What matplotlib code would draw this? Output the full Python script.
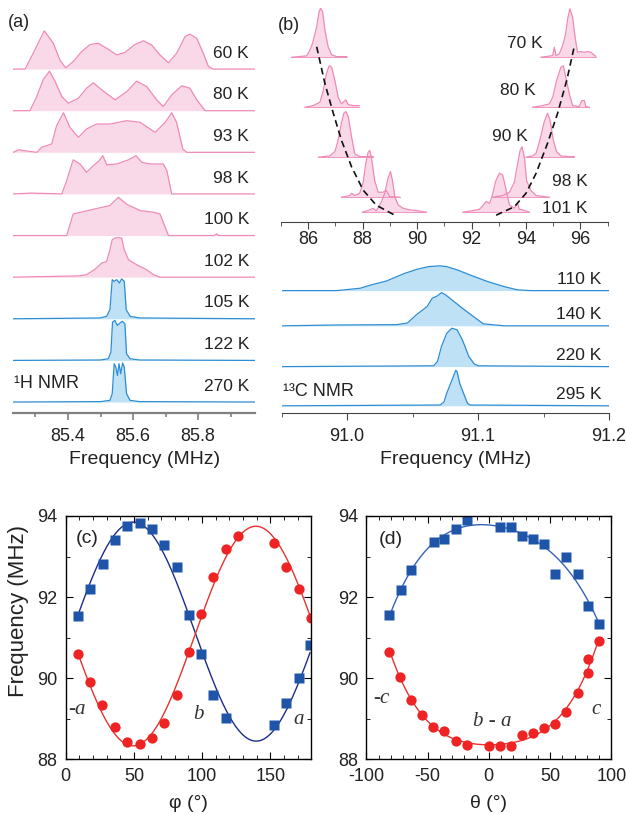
import numpy as np
import matplotlib
matplotlib.use("Agg")
import matplotlib.pyplot as plt
from matplotlib.ticker import MultipleLocator, FormatStrFormatter

plt.rcParams['font.family'] = ['Liberation Sans', 'DejaVu Sans']
plt.rcParams['axes.unicode_minus'] = False

pink_line = '#ef8ab7'
pink_fill = '#f9d3e4'
blue_line = '#2c8dd4'
blue_fill = '#b3dcf5'
sq_col = '#1f55a8'
dot_col = '#ee2424'

# ---------------- (a) 1H NMR spectra (top to bottom) ----------------
a_labels = ['60 K', '80 K', '93 K', '98 K', '100 K', '102 K', '105 K', '122 K', '270 K']
a_freq = [
    [85.232, 85.268, 85.293, 85.327, 85.355, 85.375, 85.393, 85.416, 85.442, 85.468, 85.493, 85.519, 85.550,
     85.575, 85.606, 85.632, 85.657, 85.683, 85.709, 85.734, 85.760, 85.775, 85.796, 85.816, 85.832, 85.847, 85.975],
    [85.232, 85.283, 85.304, 85.324, 85.343, 85.360, 85.381, 85.401, 85.432, 85.457, 85.478, 85.504, 85.545,
     85.581, 85.611, 85.642, 85.673, 85.693, 85.719, 85.750, 85.775, 85.796, 85.822, 85.975],
    [85.232, 85.247, 85.304, 85.319, 85.334, 85.350, 85.365, 85.386, 85.406, 85.432, 85.457, 85.488, 85.529,
     85.581, 85.622, 85.668, 85.699, 85.719, 85.734, 85.753, 85.765, 85.975],
    [85.232, 85.288, 85.381, 85.396, 85.416, 85.437, 85.457, 85.478, 85.496, 85.507, 85.519, 85.550, 85.586,
     85.609, 85.627, 85.652, 85.693, 85.704, 85.719, 85.975],
    [85.232, 85.396, 85.416, 85.450, 85.488, 85.529, 85.555, 85.581, 85.622, 85.663, 85.683, 85.709, 85.850,
     85.857, 85.864, 85.975],
    [85.232, 85.432, 85.457, 85.483, 85.504, 85.519, 85.529, 85.536, 85.544, 85.555, 85.565, 85.573, 85.586,
     85.611, 85.642, 85.663, 85.683, 85.975],
    [85.232, 85.498, 85.519, 85.529, 85.536, 85.542, 85.550, 85.558, 85.565, 85.573, 85.579, 85.591, 85.620, 85.975],
    [85.232, 85.500, 85.524, 85.532, 85.537, 85.544, 85.552, 85.560, 85.567, 85.575, 85.580, 85.591, 85.620, 85.975],
    [85.232, 85.500, 85.529, 85.536, 85.542, 85.547, 85.552, 85.557, 85.562, 85.568, 85.573, 85.580, 85.591,
     85.620, 85.975],
]
a_int = [
    [0, 0, 0.38, 0.92, 0.62, 0.22, 0.03, 0.18, 0.42, 0.59, 0.62, 0.50, 0.34, 0.40, 0.59, 0.68, 0.58, 0.34, 0.15,
     0.38, 0.78, 0.84, 0.74, 0.38, 0.06, 0, 0],
    [0, 0, 0.34, 0.75, 0.95, 0.71, 0.34, 0.18, 0.30, 0.54, 0.67, 0.50, 0.26, 0.46, 0.71, 0.58, 0.26, 0.10, 0.38,
     0.60, 0.54, 0.26, 0, 0],
    [0, 0.06, 0, 0.12, 0.16, 0.20, 0.64, 0.95, 0.60, 0.36, 0.56, 0.68, 0.68, 0.76, 0.72, 0.48, 0.72, 0.95, 0.72,
     0.08, 0, 0],
    [0, 0.02, 0, 0.32, 0.82, 0.72, 0.52, 0.68, 0.80, 0.92, 0.70, 0.72, 0.82, 0.92, 0.76, 0.72, 0.72, 0.56, 0, 0],
    [0, 0, 0.52, 0.58, 0.65, 0.72, 0.92, 0.75, 0.60, 0.56, 0.52, 0, 0, 0.04, 0, 0],
    [0, 0.03, 0.06, 0.19, 0.34, 0.38, 0.66, 0.90, 0.94, 0.95, 0.94, 0.66, 0.42, 0.30, 0.18, 0.06, 0, 0],
    [0, 0.02, 0.06, 0.22, 0.94, 0.90, 0.94, 0.86, 0.96, 0.90, 0.22, 0.06, 0.02, 0],
    [0, 0.01, 0.04, 0.20, 0.92, 0.96, 0.84, 0.90, 0.94, 0.88, 0.16, 0.04, 0.01, 0],
    [0, 0.01, 0.04, 0.20, 0.92, 0.84, 0.64, 0.92, 0.68, 0.94, 0.84, 0.20, 0.04, 0.01, 0],
]
a_pink = 6  # first six are the ordered (pink) phase

# ---------------- (b) top: 13C split lines below Tc ----------------
b_temps = [70, 80, 90, 98, 101]
b_left_f = [
    [85.39, 85.94, 86.06, 86.16, 86.31, 86.40, 86.45, 86.53, 86.61, 86.73, 86.86, 87.04, 87.41],
    [85.88, 86.18, 86.43, 86.55, 86.67, 86.77, 86.86, 86.98, 87.10, 87.22, 87.38, 87.47, 87.65, 87.87],
    [86.37, 86.79, 86.98, 87.10, 87.22, 87.31, 87.38, 87.47, 87.59, 87.71, 87.89, 88.38],
    [87.22, 87.53, 87.59, 87.71, 87.89, 88.02, 88.11, 88.20, 88.26, 88.32, 88.44, 88.57, 88.75, 88.87, 88.99, 89.36],
    [87.99, 88.26, 88.38, 88.50, 88.69, 88.81, 88.93, 89.02, 89.09, 89.18, 89.30, 89.48, 89.73, 89.97, 90.34],
]
b_left_h = [
    [0, 0.27, 1.4, 2.8, 6.1, 9.1, 9.8, 9.1, 5.5, 2.1, 0.5, 0.13, 0.13],
    [0, 0.33, 1.0, 3.3, 6.7, 8.3, 8.0, 5.3, 2.0, 0.67, 1.47, 0.53, 0.33, 0.33],
    [0, 0.27, 1.13, 3.47, 6.8, 8.8, 9.13, 8.13, 4.13, 0.67, 0.13, 0.13],
    [0, 0.33, 0.8, 0.33, 0.8, 3.0, 6.67, 9.0, 9.33, 8.0, 3.33, 1.0, 1.0, 1.33, 0.13, 0],
    [0, 0.47, 0.8, 0.27, 2.13, 3.8, 6.8, 8.13, 6.47, 3.13, 1.47, 0.8, 0.47, 0.33, 0],
]
b_right_f = [
    [94.55, 94.98, 95.04, 95.10, 95.22, 95.34, 95.44, 95.53, 95.61, 95.71, 95.81, 95.89, 96.01, 96.14, 96.26,
     96.38, 96.56],
    [94.24, 94.61, 94.85, 94.98, 95.12, 95.28, 95.37, 95.46, 95.59, 95.71, 95.95, 96.05, 96.14, 96.20, 96.32],
    [94.00, 94.24, 94.37, 94.51, 94.67, 94.79, 94.88, 95.00, 95.12, 95.28, 95.59, 95.77],
    [92.78, 93.14, 93.39, 93.57, 93.69, 93.78, 93.85, 93.94, 94.02, 94.18, 94.37, 94.85],
    [91.68, 92.05, 92.29, 92.41, 92.53, 92.66, 92.75, 92.88, 93.02, 93.14, 93.27, 93.39, 93.57, 93.69, 93.75,
     93.88, 94.12],
]
b_right_h = [
    [0, 0.33, 2.0, 0.33, 0.67, 2.3, 4.3, 7.7, 9.7, 8.0, 3.7, 1.0, 1.13, 1.0, 1.13, 1.0, 0.2],
    [0, 0.33, 0.67, 2.0, 5.3, 8.0, 8.3, 6.0, 2.7, 0.33, 0.13, 1.33, 1.33, 0.13, 0],
    [0, 0.27, 0.8, 3.47, 7.13, 8.8, 7.47, 3.47, 1.13, 0.27, 0.13, 0.13],
    [0, 0.33, 1.0, 3.0, 6.67, 9.33, 10.1, 8.0, 3.33, 1.33, 0.33, 0],
    [0, 0.33, 0.6, 1.27, 2.13, 1.8, 3.13, 6.13, 7.8, 7.47, 4.47, 1.47, 0.8, 1.8, 0.6, 0.47, 0],
]
# dashed guide through the two branches (frequency, temperature)
guide_left_f = [86.31, 86.61, 86.92, 87.22, 87.59, 88.02, 88.50, 89.18]
guide_left_t = [67.9, 75.2, 81.2, 86.6, 91.9, 96.6, 99.6, 101.6]
guide_right_f = [92.90, 93.57, 94.00, 94.37, 94.79, 95.16, 95.50, 95.77]
guide_right_t = [101.6, 99.9, 97.2, 93.2, 87.2, 81.2, 74.5, 67.9]

# ---------------- (b) bottom: 13C above Tc ----------------
c_labels = ['110 K', '140 K', '220 K', '295 K']
c_freq = [
    [90.947, 90.972, 90.992, 91.010, 91.018, 91.030, 91.043, 91.053, 91.062, 91.071, 91.076, 91.084, 91.094,
     91.107, 91.120, 91.130, 91.140, 91.200],
    [90.950, 90.992, 91.038, 91.046, 91.053, 91.061, 91.065, 91.069, 91.072, 91.075, 91.080, 91.088, 91.097,
     91.104, 91.120, 91.200],
    [90.950, 91.066, 91.069, 91.072, 91.076, 91.080, 91.084, 91.088, 91.093, 91.097, 91.100, 91.200],
    [90.950, 91.071, 91.074, 91.076, 91.080, 91.083, 91.084, 91.086, 91.090, 91.092, 91.094, 91.200],
]
c_int = [
    [0, 0, 0, 0.06, 0.14, 0.24, 0.42, 0.53, 0.60, 0.62, 0.60, 0.52, 0.39, 0.23, 0.10, 0.02, 0, 0],
    [0, 0.02, 0.03, 0.07, 0.28, 0.48, 0.69, 0.75, 0.83, 0.78, 0.65, 0.44, 0.22, 0.05, 0, 0],
    [0, 0.02, 0.13, 0.50, 0.83, 0.96, 0.92, 0.67, 0.25, 0.07, 0.02, 0],
    [0, 0.02, 0.10, 0.31, 0.64, 0.89, 0.85, 0.56, 0.22, 0.06, 0.02, 0],
]
c_base = [3.06, 2.18, 1.16, 0.18]

# ---------------- (c) rotation about c ----------------
phi_sq = [9.3, 17.8, 27.6, 36.4, 44.7, 54.5, 63.0, 72.1, 81.4, 90.2, 99.2, 108.3, 117.3, 153.0, 161.5, 171.1, 179.1]
f_sq_c = [91.53, 92.21, 92.82, 93.42, 93.75, 93.82, 93.67, 93.29, 92.75, 91.56, 90.60, 89.59, 89.01, 88.86,
          89.40, 90.00, 90.82]
phi_dot = [8.8, 17.8, 26.6, 36.2, 45.2, 54.5, 63.0, 72.1, 81.4, 90.2, 99.5, 108.3, 117.3, 126.1, 153.0, 161.5,
           171.1, 179.6]
f_dot_c = [90.61, 89.90, 89.34, 88.79, 88.42, 88.38, 88.52, 88.91, 89.60, 90.66, 91.58, 92.50, 93.19, 93.51,
           93.34, 92.75, 92.19, 91.48]

# ---------------- (d) rotation about b-a ----------------
th_sq = [-81.1, -71.6, -63.1, -44.9, -36.2, -26.7, -18.0, 9.3, 18.2, 27.2, 35.9, 44.9, 54.4, 63.1, 72.7, 80.8, 89.8]
f_sq_d = [91.56, 92.17, 92.68, 93.35, 93.43, 93.67, 93.90, 93.72, 93.72, 93.51, 93.43, 93.31, 92.57, 93.00,
          92.57, 91.79, 91.33]
th_dot = [-81.1, -72.1, -63.1, -54.4, -45.2, -36.2, -26.7, -18.0, 0.0, 9.3, 18.2, 27.2, 35.9, 44.9, 54.4, 63.1,
          72.7, 80.8, 80.8, 89.8]
f_dot_d = [90.66, 90.03, 89.47, 89.09, 88.79, 88.71, 88.45, 88.36, 88.34, 88.34, 88.34, 88.61, 88.65, 88.77,
           88.87, 89.16, 89.63, 90.12, 90.48, 90.93]


def fit_cos2(x, y):
    # least squares A + B cos(2x) + C sin(2x) through the measured points
    x = np.radians(np.asarray(x))
    m = np.column_stack([np.ones_like(x), np.cos(2 * x), np.sin(2 * x)])
    coef = np.linalg.lstsq(m, np.asarray(y), rcond=None)[0]
    xs = np.linspace(x.min(), x.max(), 300)
    ys = coef[0] + coef[1] * np.cos(2 * xs) + coef[2] * np.sin(2 * xs)
    return np.degrees(xs), ys


def fit_poly(x, y, deg=4):
    p = np.polyfit(x, y, deg)
    xs = np.linspace(min(x), max(x), 300)
    return xs, np.polyval(p, xs)


def draw_peak(ax, f, h, base, line, fill, sign=1, edge=False):
    f = np.asarray(f)
    y = base + sign * np.asarray(h)
    ax.fill_between(f, base, y, color=fill, lw=0, alpha=0.85)
    if edge:
        ax.plot([f[0], f[-1]], [base, base], color=line, lw=0.6)
    ax.plot(f, y, color=line, lw=0.9)


fig = plt.figure(figsize=(6.26, 8.14), dpi=100)

# ---------- (a) ----------
ax = fig.add_axes([0.0203, 0.4926, 0.387, 0.489])
n = len(a_labels)
for i, (lab, f, h) in enumerate(zip(a_labels, a_freq, a_int)):
    base = n - 1 - i
    pink = i < a_pink
    draw_peak(ax, f, h, base, pink_line if pink else blue_line, pink_fill if pink else blue_fill)
    ax.text(85.957, base + 0.38, lab, ha='right', va='center', fontsize=12.5, color='#222222')
ax.text(85.234, 0.45, '\u00b9H NMR', ha='left', va='center', fontsize=13, color='#222222')
ax.text(85.215, 9.11, '(a)', ha='left', va='center', fontsize=13, color='#222222')
ax.set_xlim(85.23, 85.975)
ax.set_ylim(-0.264, 9.30)
for s in ['left', 'right', 'top']:
    ax.spines[s].set_visible(False)
ax.spines['bottom'].set_color('#808080')
ax.spines['bottom'].set_linewidth(1.6)
ax.set_yticks([])
ax.xaxis.set_major_locator(MultipleLocator(0.2))
ax.xaxis.set_minor_locator(MultipleLocator(0.1))
ax.xaxis.set_major_formatter(FormatStrFormatter('%.1f'))
ax.tick_params(axis='x', which='major', direction='out', length=5, width=1.2, color='#808080',
               labelsize=13, pad=6, labelcolor='#222222')
ax.tick_params(axis='x', which='minor', direction='out', length=3, width=1.2, color='#808080')
fig.text(145 / 626, 1 - 460 / 814, 'Frequency (MHz)', ha='center', va='center', fontsize=14, color='#222222')

# ---------- (b) top ----------
ax = fig.add_axes([0.4489, 0.7276, 0.5219, 0.2625])
for t, lf, lh, rf, rh in zip(b_temps, b_left_f, b_left_h, b_right_f, b_right_h):
    draw_peak(ax, lf, lh, t, pink_line, pink_fill, sign=-1, edge=True)
    draw_peak(ax, rf, rh, t, pink_line, pink_fill, sign=-1, edge=True)
ax.plot(guide_left_f, guide_left_t, color='#111111', lw=1.2, ls=(0, (4, 2.5)))
ax.plot(guide_right_f, guide_right_t, color='#111111', lw=1.2, ls=(0, (4, 2.5)))
b_text = [(94.6, 67.2, '70 K'), (94.36, 76.7, '80 K'), (94.06, 85.9, '90 K'), (96.26, 94.9, '98 K'),
          (96.26, 100.2, '101 K')]
for x, y, s in b_text:
    ax.text(x, y, s, ha='right', va='center', fontsize=12.5, color='#222222')
ax.text(84.89, 63.6, '(b)', ha='left', va='center', fontsize=13, color='#222222')
ax.set_xlim(85, 97)
ax.set_ylim(102.9, 60.16)
for s in ['left', 'right', 'top']:
    ax.spines[s].set_visible(False)
ax.spines['bottom'].set_color('#444444')
ax.set_yticks([])
ax.xaxis.set_major_locator(MultipleLocator(2))
ax.xaxis.set_minor_locator(MultipleLocator(1))
ax.tick_params(axis='x', which='major', direction='out', length=5, color='#444444', labelsize=13, pad=2,
               labelcolor='#222222')
ax.tick_params(axis='x', which='minor', direction='out', length=3, color='#444444')

# ---------- (b) bottom ----------
ax = fig.add_axes([0.45, 0.4926, 0.5228, 0.1941])
for lab, f, h, base in zip(c_labels, c_freq, c_int, c_base):
    draw_peak(ax, f, h, base, blue_line, blue_fill)
    ax.text(91.194, base + 0.28, lab, ha='right', va='center', fontsize=12.5, color='#222222')
ax.text(90.951, 0.53, '\u00b9\u00b3C NMR', ha='left', va='center', fontsize=13, color='#222222')
ax.set_xlim(90.95, 91.2)
ax.set_ylim(0, 3.95)
for s in ['left', 'right', 'top']:
    ax.spines[s].set_visible(False)
ax.spines['bottom'].set_color('#444444')
ax.set_yticks([])
ax.xaxis.set_major_locator(MultipleLocator(0.1))
ax.xaxis.set_minor_locator(MultipleLocator(0.05))
ax.xaxis.set_major_formatter(FormatStrFormatter('%.1f'))
ax.tick_params(axis='x', which='major', direction='out', length=5, color='#444444', labelsize=13, pad=6,
               labelcolor='#222222')
ax.tick_params(axis='x', which='minor', direction='out', length=3, color='#444444')
fig.text(456 / 626, 1 - 460 / 814, 'Frequency (MHz)', ha='center', va='center', fontsize=14, color='#222222')


def style_angle(ax, xlim, xmajor, xminor):
    ax.set_xlim(*xlim)
    ax.set_ylim(88, 94)
    ax.xaxis.set_major_locator(MultipleLocator(xmajor))
    ax.xaxis.set_minor_locator(MultipleLocator(xminor))
    ax.yaxis.set_major_locator(MultipleLocator(2))
    ax.yaxis.set_minor_locator(MultipleLocator(1))
    ax.tick_params(which='both', direction='in', top=True, right=True, labelsize=13, pad=6,
                   labelcolor='#222222')
    ax.tick_params(which='major', length=5)
    ax.tick_params(which='minor', length=3)
    for s in ax.spines.values():
        s.set_linewidth(1.0)


# ---------- (c) ----------
ax = fig.add_axes([0.105, 0.067, 0.3922, 0.2991])
xs, ys = fit_cos2(phi_sq, f_sq_c)
ax.plot(xs, ys, color='#1d2c8c', lw=1.0)
xs, ys = fit_cos2(phi_dot, f_dot_c)
ax.plot(xs, ys, color='#e8322f', lw=1.0)
ax.plot(phi_sq, f_sq_c, 's', color=sq_col, ms=6.8, mec='none')
ax.plot(phi_dot, f_dot_c, 'o', color=dot_col, ms=7.4, mec='none')
style_angle(ax, (0, 180), 50, 10)
ax.text(16, 93.45, '(c)', ha='center', va='center', fontsize=14, color='#222222')
ax.text(2, 89.22, '-a', ha='left', va='center', fontsize=15, family='Liberation Serif', style='italic',
        color='#333333')
ax.text(97, 89.12, 'b', ha='center', va='center', fontsize=15, family='Liberation Serif', style='italic',
        color='#333333')
ax.text(171, 88.99, 'a', ha='center', va='center', fontsize=15, family='Liberation Serif', style='italic',
        color='#333333')
fig.text(19 / 626, 1 - 611 / 814, 'Frequency (MHz)', rotation=90, ha='center', va='center', fontsize=16,
         color='#222222')
fig.text(188 / 626, 1 - 803 / 814, '\u03c6 (\u00b0)', ha='center', va='center', fontsize=14, color='#222222')

# ---------- (d) ----------
ax = fig.add_axes([0.5851, 0.067, 0.3914, 0.2991])
xs, ys = fit_poly(th_sq, f_sq_d)
ax.plot(xs, ys, color='#3463b8', lw=1.0)
xs, ys = fit_poly(th_dot, f_dot_d)
ax.plot(xs, ys, color='#e8322f', lw=1.0)
ax.plot(th_sq, f_sq_d, 's', color=sq_col, ms=6.8, mec='none')
ax.plot(th_dot, f_dot_d, 'o', color=dot_col, ms=7.4, mec='none')
style_angle(ax, (-100, 100), 50, 10)
ax.text(-80, 93.41, '(d)', ha='center', va='center', fontsize=14, color='#222222')
ax.text(-94, 89.5, '-c', ha='left', va='center', fontsize=15, family='Liberation Serif', style='italic',
        color='#333333')
ax.text(2.7, 88.94, 'b - a', ha='center', va='center', fontsize=15, family='Liberation Serif', style='italic',
        color='#333333')
ax.text(87.6, 89.24, 'c', ha='center', va='center', fontsize=15, family='Liberation Serif', style='italic',
        color='#333333')
fig.text(489 / 626, 1 - 803 / 814, '\u03b8 (\u00b0)', ha='center', va='center', fontsize=14, color='#222222')

fig.savefig('out.png', dpi=100)
